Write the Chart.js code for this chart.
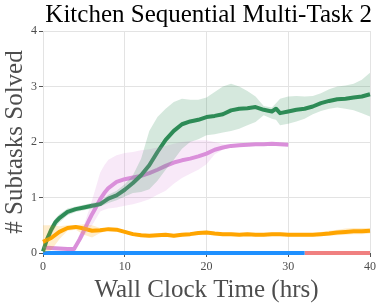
<!DOCTYPE html>
<html lang="en">
<head>
    <meta charset="UTF-8">
    <title>Kitchen Sequential Multi-Task 2</title>
    <script src="https://cdn.jsdelivr.net/npm/chart.js"></script>
    <style>
        html, body { margin: 0; padding: 0; background: #fff; }
        #wrap { width: 379px; height: 305px; }
    </style>
</head>
<body>
    <div id="wrap"><canvas id="chart"></canvas></div>

    <script>
        // --- data ---
        const greenX = [0, 0.5, 1, 1.5, 2, 3, 4, 5, 6, 7, 8, 9, 10, 11, 12, 13, 14, 15, 16, 17, 18, 19, 20, 21, 22, 23, 24, 25, 26, 27, 28, 28.5, 29, 30, 31, 32, 33, 34, 35, 36, 37, 38, 39, 40];
        const greenMean = [0.03, 0.25, 0.42, 0.55, 0.63, 0.74, 0.79, 0.82, 0.85, 0.88, 0.98, 1.04, 1.14, 1.26, 1.4, 1.58, 1.82, 2.04, 2.2, 2.32, 2.37, 2.4, 2.45, 2.47, 2.5, 2.57, 2.6, 2.61, 2.63, 2.58, 2.55, 2.6, 2.52, 2.55, 2.58, 2.6, 2.64, 2.7, 2.74, 2.77, 2.78, 2.8, 2.82, 2.86];
        const greenUpper = [0.05, 0.3, 0.5, 0.62, 0.7, 0.8, 0.84, 0.87, 0.9, 0.93, 1.05, 1.12, 1.24, 1.4, 1.7, 2.2, 2.45, 2.6, 2.72, 2.78, 2.76, 2.76, 2.8, 2.9, 3.0, 3.05, 3.0, 2.92, 2.82, 2.65, 2.62, 2.7, 2.78, 2.82, 2.83, 2.82, 2.83, 2.88, 2.95, 3.0, 3.02, 3.05, 3.12, 3.25];
        const greenLower = [0.0, 0.18, 0.32, 0.46, 0.55, 0.68, 0.74, 0.77, 0.8, 0.84, 0.9, 0.95, 1.02, 1.08, 1.1, 1.15, 1.3, 1.5, 1.68, 1.88, 2.0, 2.05, 2.12, 2.14, 2.17, 2.2, 2.24, 2.3, 2.36, 2.48, 2.42, 2.4, 2.3, 2.33, 2.37, 2.42, 2.5, 2.56, 2.6, 2.62, 2.6, 2.57, 2.52, 2.46];

        const pinkX = [0, 1, 2, 3, 3.8, 4.5, 5, 5.5, 6, 6.5, 7, 7.5, 8, 9, 10, 11, 12, 13, 14, 15, 16, 17, 18, 19, 20, 21, 22, 23, 24, 25, 26, 27, 28, 29, 30];
        const pinkMean = [0.1, 0.09, 0.08, 0.07, 0.07, 0.25, 0.4, 0.55, 0.7, 0.83, 0.97, 1.08, 1.17, 1.28, 1.33, 1.36, 1.39, 1.44, 1.5, 1.57, 1.63, 1.67, 1.7, 1.74, 1.79, 1.86, 1.9, 1.93, 1.94, 1.95, 1.96, 1.96, 1.97, 1.96, 1.95];
        const pinkUpper = [0.12, 0.11, 0.1, 0.09, 0.1, 0.35, 0.5, 0.72, 0.95, 1.2, 1.45, 1.58, 1.68, 1.76, 1.8, 1.82, 1.85, 1.87, 1.9, 1.93, 1.97, 2.0, 2.02, 2.03, 2.03, 2.0, 1.96, 1.97, 1.97, 1.98, 1.98, 1.98, 1.99, 1.98, 1.97];
        const pinkLower = [0.08, 0.07, 0.06, 0.05, 0.05, 0.18, 0.3, 0.4, 0.5, 0.62, 0.75, 0.78, 0.8, 0.82, 0.85, 0.88, 0.92, 0.97, 1.05, 1.12, 1.25, 1.35, 1.43, 1.5, 1.6, 1.78, 1.86, 1.9, 1.91, 1.92, 1.93, 1.93, 1.94, 1.94, 1.93];

        const orangeX = [0, 1, 2, 3, 4, 5, 6, 7, 8, 9, 10, 11, 12, 13, 14, 15, 16, 17, 18, 19, 20, 21, 22, 23, 24, 25, 26, 27, 28, 29, 30, 31, 32, 33, 34, 35, 36, 37, 38, 39, 40];
        const orangeMean = [0.2, 0.27, 0.38, 0.45, 0.47, 0.44, 0.4, 0.41, 0.43, 0.42, 0.38, 0.34, 0.32, 0.31, 0.32, 0.33, 0.31, 0.33, 0.34, 0.36, 0.37, 0.35, 0.34, 0.34, 0.33, 0.34, 0.33, 0.33, 0.34, 0.34, 0.33, 0.33, 0.33, 0.33, 0.34, 0.35, 0.37, 0.38, 0.39, 0.39, 0.4];
        const orangeUpper = [0.5, 0.5, 0.48, 0.5, 0.5, 0.52, 0.5, 0.45, 0.45, 0.44, 0.41, 0.37, 0.35, 0.34, 0.35, 0.36, 0.34, 0.36, 0.37, 0.39, 0.4, 0.38, 0.37, 0.37, 0.36, 0.37, 0.36, 0.36, 0.37, 0.37, 0.36, 0.36, 0.36, 0.36, 0.38, 0.4, 0.42, 0.44, 0.45, 0.45, 0.45];
        const orangeLower = [0.0, 0.05, 0.25, 0.4, 0.42, 0.33, 0.28, 0.36, 0.41, 0.4, 0.35, 0.31, 0.29, 0.28, 0.29, 0.3, 0.28, 0.3, 0.31, 0.33, 0.34, 0.32, 0.31, 0.31, 0.3, 0.31, 0.3, 0.3, 0.31, 0.31, 0.3, 0.3, 0.3, 0.3, 0.31, 0.31, 0.32, 0.33, 0.34, 0.34, 0.35];

        const blueX = [0, 32];
        const blueY = [0, 0];
        const redX = [32, 40];
        const redY = [0, 0];

        const xTicks = [0, 10, 20, 30, 40];
        const yTicks = [0, 1, 2, 3, 4];

        function pts(xs, ys) {
            return xs.map((x, i) => ({ x: x, y: ys[i] }));
        }

        function band(xs, up, lo, color) {
            return [
                { data: pts(xs, up), borderWidth: 0, pointRadius: 0, fill: '+1', backgroundColor: color },
                { data: pts(xs, lo), borderWidth: 0, pointRadius: 0, fill: false, backgroundColor: color }
            ];
        }

        function line(xs, ys, color) {
            return { data: pts(xs, ys), borderColor: color, borderWidth: 4, pointRadius: 0, fill: false, clip: false, borderCapStyle: 'butt', borderJoinStyle: 'round' };
        }

        const serif = "'Liberation Serif', 'DejaVu Serif', serif";

        new Chart(document.getElementById('chart'), {
            type: 'line',
            data: {
                datasets: [
                    ...band(greenX, greenUpper, greenLower, 'rgba(46, 139, 87, 0.2)'),
                    ...band(pinkX, pinkUpper, pinkLower, 'rgba(218, 143, 218, 0.2)'),
                    ...band(orangeX, orangeUpper, orangeLower, 'rgba(255, 165, 0, 0.2)'),
                    line(orangeX, orangeMean, '#FFA500'),
                    line(greenX, greenMean, '#2E8B57'),
                    line(pinkX, pinkMean, '#DA8FDA'),
                    line(blueX, blueY, '#1E90FF'),
                    line(redX, redY, '#F08080')
                ]
            },
            options: {
                responsive: true,
                maintainAspectRatio: false,
                animation: false,
                layout: { padding: { left: 0, right: 7, top: 0, bottom: 0 } },
                plugins: {
                    legend: { display: false },
                    tooltip: { enabled: false },
                    title: {
                        display: true,
                        align: 'end',
                        text: 'Kitchen Sequential Multi-Task 2',
                        color: '#000',
                        font: { family: serif, size: 25, weight: 'normal' },
                        padding: { top: 0, bottom: 1 }
                    }
                },
                scales: {
                    x: {
                        type: 'linear',
                        min: 0,
                        max: 40,
                        afterBuildTicks: s => { s.ticks = xTicks.map(v => ({ value: v })); },
                        afterFit: s => { s.height = 52; },
                        grid: { color: '#e3e3e3', lineWidth: 1, tickColor: '#555', tickLength: 4 },
                        border: { display: false },
                        ticks: { color: '#4d4d4d', font: { family: serif, size: 12 }, padding: 3, maxRotation: 0 },
                        title: { display: true, text: 'Wall Clock Time (hrs)', color: '#4d4d4d', font: { family: serif, size: 25 }, padding: { top: 0, bottom: 0 } }
                    },
                    y: {
                        type: 'linear',
                        min: 0,
                        max: 4,
                        afterBuildTicks: s => { s.ticks = yTicks.map(v => ({ value: v })); },
                        afterFit: s => { s.width = 43; },
                        grid: { color: '#e3e3e3', lineWidth: 1, tickColor: '#555', tickLength: 4 },
                        border: { display: false },
                        ticks: { color: '#4d4d4d', font: { family: serif, size: 12 }, padding: 2 },
                        title: { display: true, text: '# Subtasks Solved', color: '#4d4d4d', font: { family: serif, size: 25 }, padding: { top: 0, bottom: 0 } }
                    }
                }
            }
        });
    </script>
</body>
</html>
